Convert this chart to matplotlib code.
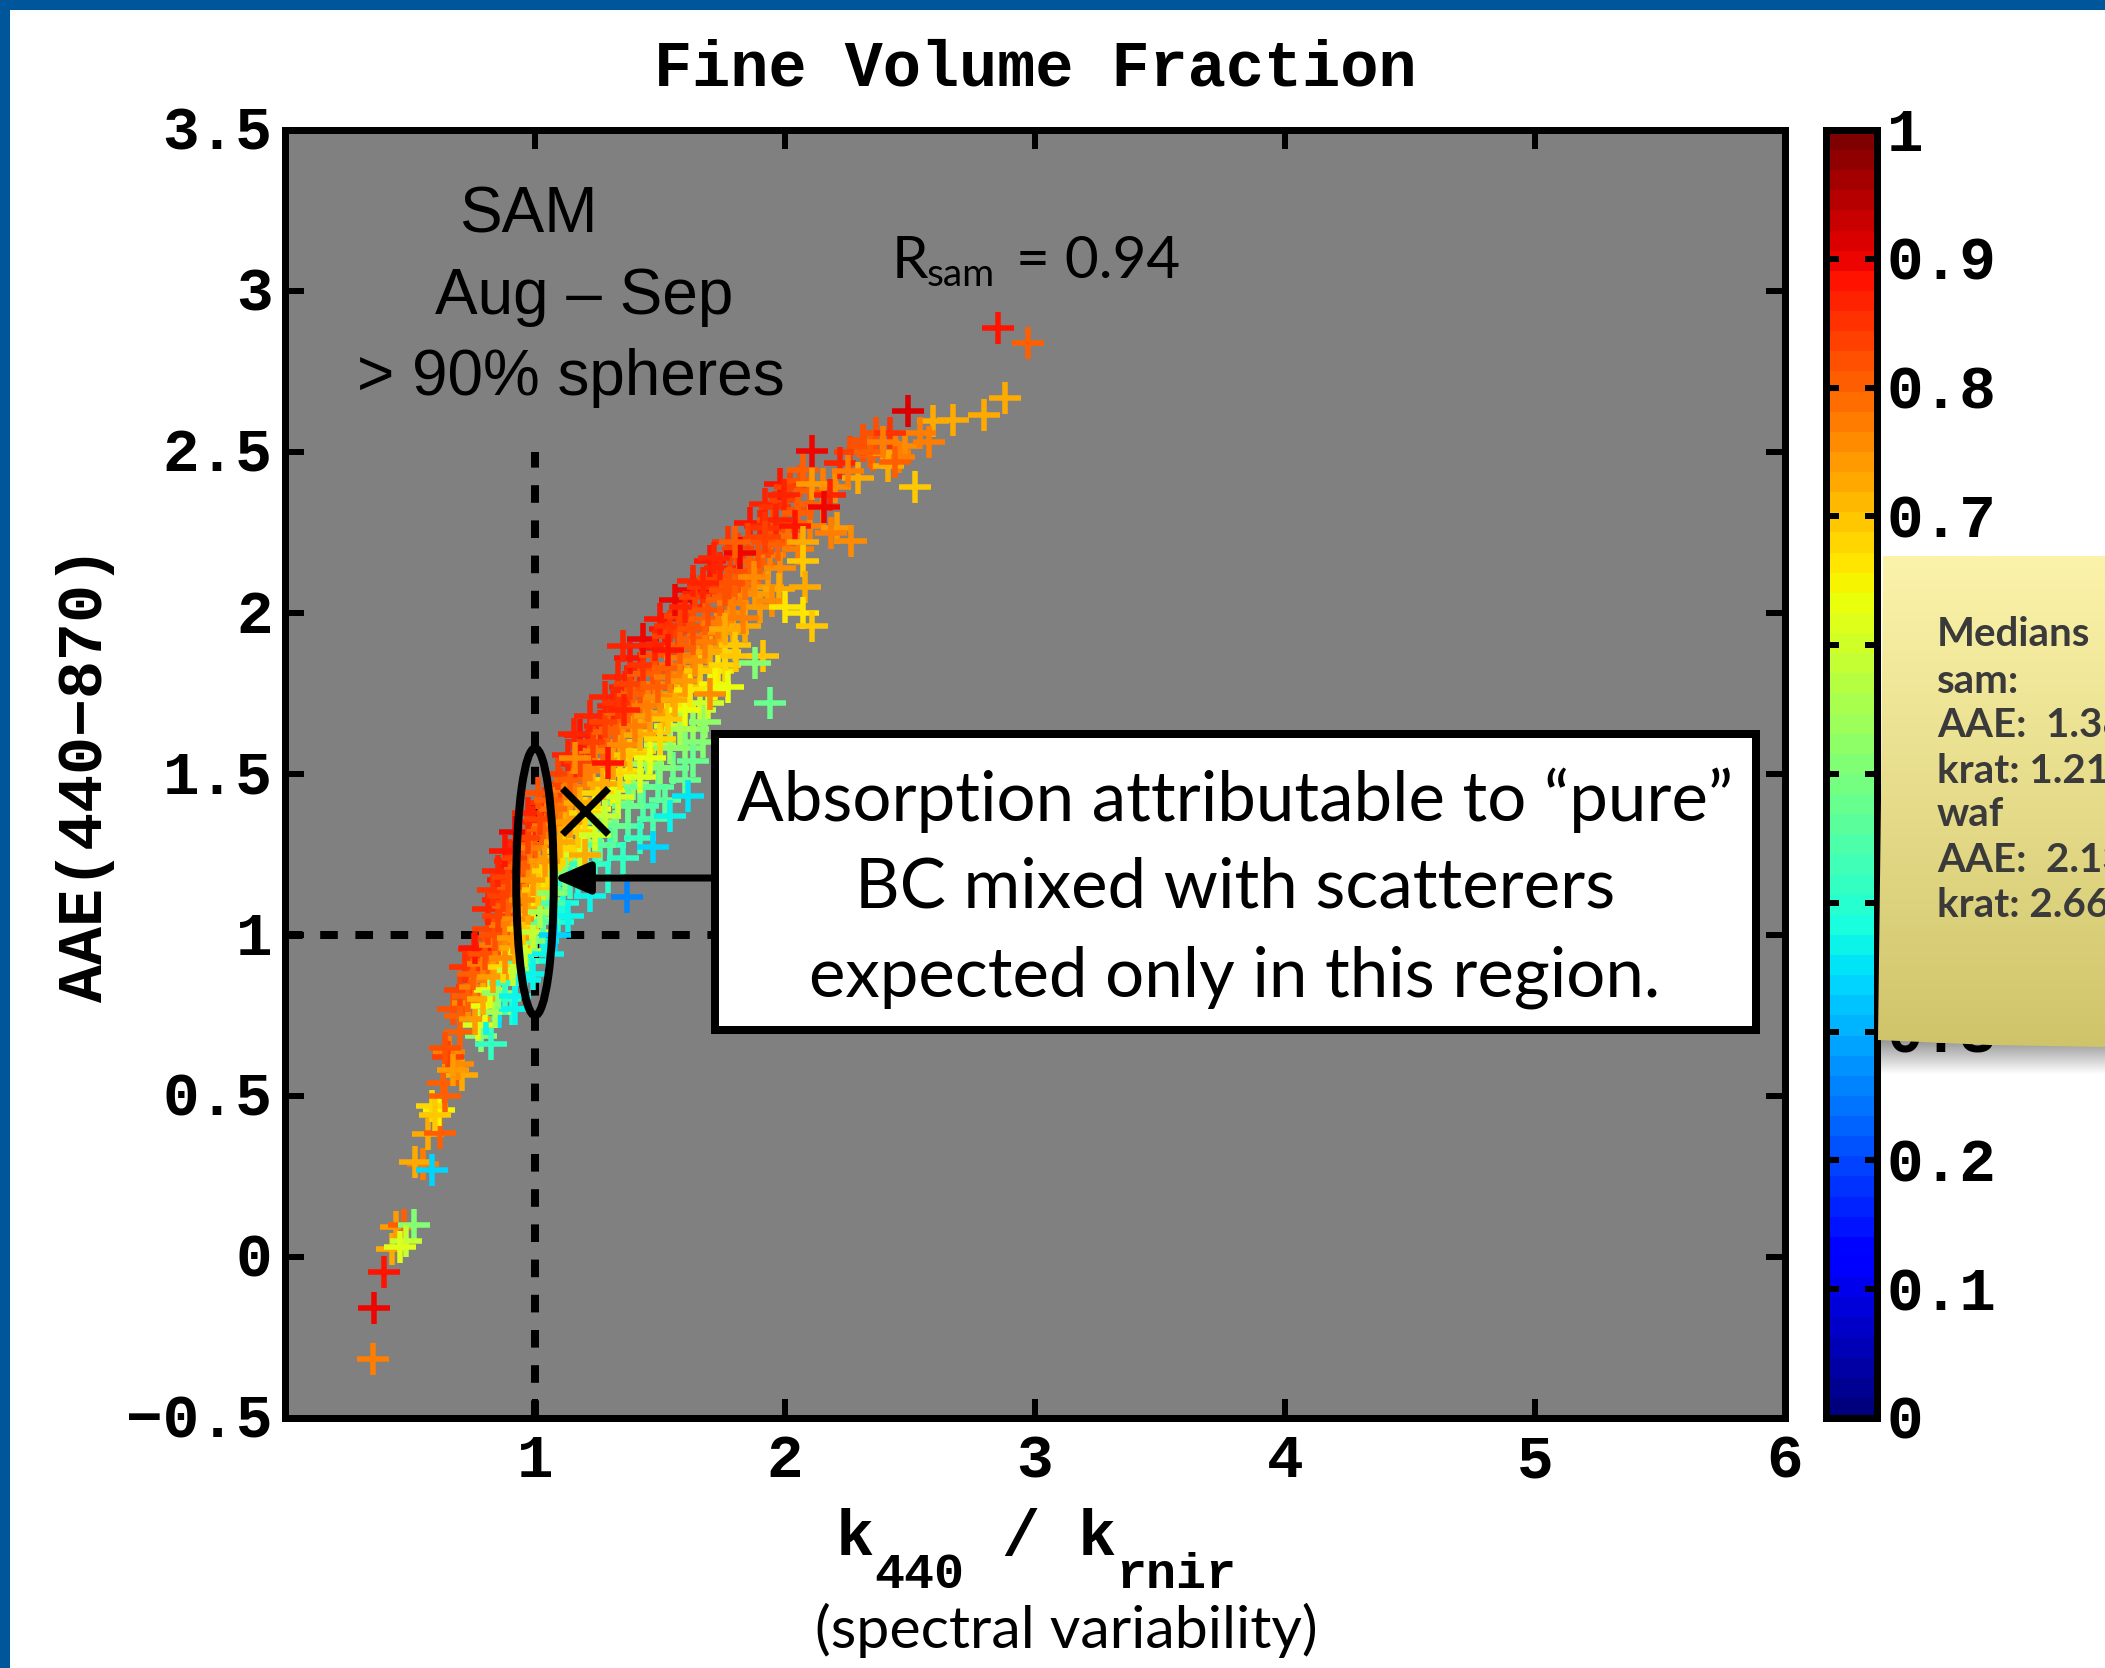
# fine volume fraction scatter, SAM Aug-Sep
import numpy as np
import matplotlib
matplotlib.use('Agg')
import matplotlib.pyplot as plt
from matplotlib.patches import Ellipse, Rectangle, Polygon
from matplotlib.transforms import ScaledTranslation

MONO = 'Liberation Mono'
HAND = 'Lato'
HELV = 'Liberation Sans'

# dense part of the cloud, one line per level
body_x = [
    .67, .70, .73, .76, .80, .84, .88, .92,
    .70, .73, .76, .79, .82, .85, .88, .92,
    .72, .75, .79, .83, .87, .91, .95, .99,
    .76, .80, .84, .88, .92, .96, 1.0, 1.05,
    .81, .84, .88, .91, .95, .99, 1.03, 1.08,
    .81, .85, .89, .93, .97, 1.02, 1.07, 1.13,
    .83, .87, .91, .96, 1.01, 1.07, 1.14, 1.22,
    .85, .89, .94, .99, 1.05, 1.12, 1.20, 1.29,
    .88, .93, .98, 1.04, 1.11, 1.18, 1.26, 1.35,
    .92, .97, 1.03, 1.10, 1.17, 1.24, 1.32, 1.42,
    .97, 1.02, 1.08, 1.14, 1.20, 1.28, 1.37, 1.47,
    1.01, 1.06, 1.12, 1.18, 1.25, 1.33, 1.42, 1.52,
    1.09, 1.14, 1.20, 1.27, 1.34, 1.42, 1.50, 1.60,
    1.13, 1.18, 1.24, 1.31, 1.38, 1.46, 1.54, 1.63,
    1.18, 1.23, 1.29, 1.35, 1.42, 1.50, 1.58, 1.67,
    1.22, 1.28, 1.34, 1.40, 1.46, 1.53, 1.60, 1.68,
    1.28, 1.33, 1.39, 1.45, 1.50, 1.56, 1.62, 1.69,
    1.33, 1.38, 1.43, 1.49, 1.54, 1.60, 1.66, 1.72,
    1.38, 1.43, 1.48, 1.53, 1.58, 1.64, 1.70, 1.76,
    1.43, 1.48, 1.53, 1.58, 1.63, 1.68, 1.74, 1.80,
    1.50, 1.54, 1.58, 1.63, 1.68, 1.73, 1.78, 1.84,
    1.56, 1.60, 1.64, 1.69, 1.74, 1.79, 1.84, 1.90,
    1.63, 1.67, 1.71, 1.76, 1.80, 1.84, 1.88, 1.93,
    1.70, 1.74, 1.78, 1.82, 1.86, 1.90, 1.94, 1.98,
    1.77, 1.81, 1.85, 1.89, 1.93, 1.97, 2.01, 2.05,
]
body_y = [
    .77, .75, .79, .74, .78, .76, .80, .77,
    .83, .81, .84, .80, .83, .82, .85, .81,
    .90, .88, .91, .87, .90, .89, .92, .88,
    .96, .94, .97, .93, .96, .95, .98, .94,
    1.02, 1.00, 1.03, .99, 1.02, 1.01, 1.04, 1.00,
    1.08, 1.06, 1.09, 1.05, 1.08, 1.07, 1.10, 1.06,
    1.14, 1.12, 1.15, 1.11, 1.14, 1.13, 1.16, 1.12,
    1.20, 1.18, 1.21, 1.17, 1.20, 1.19, 1.22, 1.18,
    1.26, 1.24, 1.27, 1.23, 1.26, 1.25, 1.28, 1.24,
    1.32, 1.30, 1.33, 1.29, 1.32, 1.31, 1.34, 1.30,
    1.38, 1.36, 1.39, 1.35, 1.38, 1.37, 1.40, 1.36,
    1.44, 1.42, 1.45, 1.41, 1.44, 1.43, 1.46, 1.42,
    1.50, 1.48, 1.51, 1.47, 1.50, 1.49, 1.52, 1.48,
    1.56, 1.54, 1.57, 1.53, 1.56, 1.55, 1.58, 1.54,
    1.62, 1.60, 1.63, 1.59, 1.62, 1.61, 1.64, 1.60,
    1.68, 1.66, 1.69, 1.65, 1.68, 1.67, 1.70, 1.66,
    1.74, 1.72, 1.75, 1.71, 1.74, 1.73, 1.76, 1.72,
    1.80, 1.78, 1.81, 1.77, 1.80, 1.79, 1.82, 1.78,
    1.86, 1.84, 1.87, 1.83, 1.86, 1.85, 1.88, 1.84,
    1.92, 1.90, 1.93, 1.89, 1.92, 1.91, 1.94, 1.90,
    1.98, 1.96, 1.99, 1.95, 1.98, 1.97, 2.00, 1.96,
    2.04, 2.02, 2.05, 2.01, 2.04, 2.03, 2.06, 2.02,
    2.10, 2.08, 2.11, 2.07, 2.10, 2.09, 2.12, 2.08,
    2.16, 2.14, 2.17, 2.13, 2.16, 2.15, 2.18, 2.14,
    2.22, 2.20, 2.23, 2.19, 2.22, 2.21, 2.24, 2.20,
]
body_c = [
    .82, .80, .76, .74, .64, .55, .42, .36,
    .84, .80, .78, .72, .62, .52, .42, .37,
    .85, .80, .77, .74, .68, .58, .45, .36,
    .88, .82, .78, .75, .72, .60, .50, .36,
    .84, .82, .78, .74, .70, .58, .46, .34,
    .86, .83, .80, .76, .72, .55, .44, .36,
    .85, .83, .80, .76, .70, .52, .42, .37,
    .87, .84, .80, .74, .68, .50, .42, .40,
    .88, .84, .78, .74, .68, .60, .46, .42,
    .90, .84, .80, .73, .69, .60, .47, .42,
    .86, .84, .79, .74, .68, .58, .48, .44,
    .82, .80, .77, .72, .68, .60, .48, .46,
    .84, .80, .77, .72, .68, .62, .50, .47,
    .87, .83, .78, .74, .70, .64, .52, .48,
    .88, .84, .80, .76, .72, .68, .55, .50,
    .86, .83, .80, .78, .74, .70, .64, .52,
    .87, .85, .81, .78, .76, .72, .66, .60,
    .86, .84, .81, .80, .77, .74, .70, .65,
    .88, .85, .82, .80, .78, .76, .72, .68,
    .90, .86, .83, .81, .80, .77, .74, .70,
    .88, .85, .84, .82, .80, .78, .76, .72,
    .90, .87, .84, .82, .80, .78, .76, .74,
    .87, .85, .83, .82, .80, .79, .77, .74,
    .88, .86, .84, .82, .80, .80, .78, .76,
    .85, .84, .83, .82, .82, .80, .79, .78,
]

# crosses between the levels above
fill_x = [
    .76, .80, .84, .88, .92, .96,
    .77, .81, .85, .89, .93, .98,
    .82, .86, .90, .94, .98, 1.03,
    .86, .90, .94, .98, 1.03, 1.09,
    .85, .89, .94, .99, 1.05, 1.11,
    .87, .91, .97, 1.03, 1.09, 1.17,
    .90, .95, 1.01, 1.08, 1.15, 1.24,
    .94, 1.00, 1.07, 1.14, 1.21, 1.30,
    .99, 1.05, 1.12, 1.19, 1.27, 1.37,
    1.04, 1.10, 1.17, 1.24, 1.33, 1.43,
    1.10, 1.16, 1.23, 1.31, 1.39, 1.49,
    1.16, 1.22, 1.29, 1.37, 1.45, 1.55,
    1.21, 1.27, 1.34, 1.42, 1.50, 1.60,
    1.26, 1.32, 1.39, 1.46, 1.54, 1.63,
    1.31, 1.37, 1.44, 1.51, 1.58, 1.66,
    1.36, 1.42, 1.48, 1.55, 1.62, 1.70,
    1.42, 1.47, 1.53, 1.59, 1.66, 1.73,
    1.48, 1.53, 1.58, 1.63, 1.69, 1.76,
    1.52, 1.57, 1.62, 1.67, 1.73, 1.79,
    1.63, 1.67, 1.72, 1.77, 1.82, 1.88,
    1.86, 1.90, 1.95, 2.00, 2.04, 2.10,
    1.92, 1.96, 2.00, 2.05, 2.10, 2.15,
    1.98, 2.02, 2.06, 2.10, 2.15, 2.20,
    2.26, 2.31, 2.35, 2.39, 2.44, 2.48,
]
fill_y = [
    .87, .86, .88, .85, .87, .86,
    .93, .92, .94, .91, .93, .92,
    .99, .98, 1.00, .97, .99, .98,
    1.05, 1.04, 1.06, 1.03, 1.05, 1.04,
    1.11, 1.10, 1.12, 1.09, 1.11, 1.10,
    1.17, 1.16, 1.18, 1.15, 1.17, 1.16,
    1.23, 1.22, 1.24, 1.21, 1.23, 1.22,
    1.29, 1.28, 1.30, 1.27, 1.29, 1.28,
    1.35, 1.34, 1.36, 1.33, 1.35, 1.34,
    1.41, 1.40, 1.42, 1.39, 1.41, 1.40,
    1.47, 1.46, 1.48, 1.45, 1.47, 1.46,
    1.53, 1.52, 1.54, 1.51, 1.53, 1.52,
    1.59, 1.58, 1.60, 1.57, 1.59, 1.58,
    1.65, 1.64, 1.66, 1.63, 1.65, 1.64,
    1.71, 1.70, 1.72, 1.69, 1.71, 1.70,
    1.77, 1.76, 1.78, 1.75, 1.77, 1.76,
    1.83, 1.82, 1.84, 1.81, 1.83, 1.82,
    1.89, 1.88, 1.90, 1.87, 1.89, 1.88,
    1.95, 1.94, 1.96, 1.93, 1.95, 1.94,
    2.07, 2.06, 2.08, 2.05, 2.07, 2.06,
    2.28, 2.27, 2.29, 2.26, 2.28, 2.27,
    2.34, 2.33, 2.35, 2.32, 2.34, 2.33,
    2.40, 2.39, 2.41, 2.38, 2.40, 2.39,
    2.50, 2.52, 2.49, 2.53, 2.50, 2.52,
]
fill_c = [
    .84, .78, .72, .62, .45, .36,
    .85, .80, .75, .66, .52, .38,
    .84, .78, .74, .64, .50, .37,
    .84, .78, .74, .66, .50, .38,
    .86, .80, .74, .66, .50, .38,
    .88, .82, .76, .66, .48, .38,
    .86, .80, .74, .68, .50, .41,
    .87, .80, .74, .68, .54, .43,
    .86, .78, .72, .64, .52, .44,
    .85, .78, .72, .64, .50, .45,
    .84, .78, .72, .65, .52, .46,
    .86, .78, .73, .66, .54, .47,
    .87, .80, .74, .68, .58, .50,
    .86, .80, .74, .70, .60, .52,
    .86, .80, .76, .72, .66, .58,
    .86, .82, .78, .74, .70, .64,
    .87, .82, .79, .76, .72, .66,
    .88, .83, .80, .78, .74, .68,
    .88, .84, .82, .79, .76, .72,
    .90, .86, .83, .80, .78, .74,
    .88, .86, .82, .82, .80, .78,
    .87, .85, .83, .82, .80, .78,
    .88, .84, .82, .80, .78, .76,
    .84, .82, .80, .80, .78, .76,
]

# lower tail of the cloud
tail_x = [.352, .354, .395, .427, .443, .476, .516, .483, .460, .552, .520, .587,
          .572, .619, .616, .589, .640, .656, .709, .630, .690, .783, .823, .600,
          .650, .723, .747, .700, .770, .756, .735, .640, .670, .805, .856, .909]
tail_y = [-.317, -.158, -.047, .025, .093, .10, .10, .05, .03, .29, .295, .27,
          .382, .385, .456, .47, .50, .636, .564, .54, .60, .687, .66, .44,
          .62, .784, .84, .70, .72, .955, .90, .65, .58, .74, .76, .77]
tail_c = [.77, .90, .88, .72, .74, .80, .50, .58, .62, .78, .72, .33,
          .72, .80, .65, .68, .80, .78, .72, .80, .76, .50, .42, .70,
          .84, .82, .85, .80, .62, .86, .82, .82, .74, .36, .35, .38]

# separate crosses on top of the cloud
upper_x = [2.85, 2.97, 2.88, 2.796, 2.67, 2.59, 2.49, 2.54, 2.575, 2.365, 2.31, 2.42,
           2.393, 2.456, 2.41, 2.52, 2.107, 2.22, 2.07, 2.29, 2.25, 2.107, 1.996, 2.18,
           2.156, 2.05, 1.965, 2.206, 2.263, 2.185, 1.92, 2.04, 1.92, 1.82, 1.80, 2.07,
           2.07, 1.715, 1.875, 1.777, 1.67, 1.975, 2.08, 1.947, 2.07, 2.107, 1.83, 1.76,
           1.35, 1.53, 1.805, 1.91, 1.88, 1.77, 1.94, 1.70, 1.156, 1.29, 1.16, 1.356,
           1.20, 1.369, 1.47, 1.61, 1.54, 2.34, 2.39, 2.44, 2.0]
upper_y = [2.886, 2.838, 2.669, 2.616, 2.60, 2.595, 2.628, 2.56, 2.532, 2.56, 2.538, 2.56,
           2.497, 2.486, 2.455, 2.39, 2.504, 2.466, 2.445, 2.42, 2.44, 2.40, 2.367, 2.367,
           2.33, 2.31, 2.29, 2.264, 2.223, 2.25, 2.265, 2.27, 2.235, 2.187, 2.22, 2.22,
           2.16, 2.17, 2.113, 2.094, 2.094, 2.073, 2.08, 2.036, 2.00, 1.96, 1.984, 1.95,
           1.896, 1.885, 1.868, 1.865, 1.846, 1.77, 1.72, 1.75, 1.625, 1.533, 1.55, 1.70,
           1.247, 1.117, 1.272, 1.433, 1.37, 2.50, 2.53, 2.47, 2.02]
upper_c = [.88, .80, .72, .72, .72, .72, .92, .78, .78, .82, .82, .85,
           .72, .78, .73, .70, .90, .87, .80, .72, .78, .74, .87, .87,
           .90, .80, .87, .74, .76, .78, .85, .88, .83, .90, .80, .72,
           .70, .87, .75, .82, .87, .73, .73, .76, .66, .70, .77, .72,
           .87, .88, .70, .70, .50, .63, .47, .75, .87, .88, .76, .87,
           .72, .25, .33, .35, .37, .80, .78, .80, .66]

xticks = [1, 2, 3, 4, 5, 6]
yticks = [-0.5, 0, 0.5, 1, 1.5, 2, 2.5, 3, 3.5]
ylabels = ['\u22120.5', '0', '0.5', '1', '1.5', '2', '2.5', '3', '3.5']
cticks = [0, .1, .2, .3, .4, .5, .6, .7, .8, .9, 1]
clabels = ['0', '0.1', '0.2', '0.3', '0.4', '0.5', '0.6', '0.7', '0.8', '0.9', '1']
callout_lines = ['Absorption attributable to \u201cpure\u201d', 'BC mixed with scatterers', 'expected only in this region.']
note_lines = ['Medians', 'sam:', 'AAE:  1.38', 'krat: 1.21', 'waf', 'AAE:  2.13', 'krat: 2.66']

W, H = 2105, 1668
lw_px = 1 / 100 * 72   # points per pixel at dpi 100


def box(l, t, r, b):
    return [l / W, 1 - b / H, (r - l) / W, (b - t) / H]


def style_labels(labels, size, fig, up_px=0):
    # y labels sit a little higher than matplotlib centres them, x labels lower
    shift = ScaledTranslation(0, up_px / 100, fig.dpi_scale_trans)
    for lab in labels:
        lab.set_family(MONO)
        lab.set_weight('bold')
        lab.set_size(size)
        lab.set_transform(lab.get_transform() + shift)


fig = plt.figure(figsize=(W / 100, H / 100), dpi=100, facecolor='white')
ax = fig.add_axes(box(285, 130, 1785, 1418), facecolor='#808080')
jet = plt.get_cmap('jet', 64)

ax.plot([1, 1], [-0.5, 2.5], color='k', lw=8 * lw_px, ls=(0, (2.2, 2.2)), zorder=1)
ax.plot([0, 1.9], [1, 1], color='k', lw=8 * lw_px, ls=(0, (2.2, 2.2)), zorder=1)

xs = np.array(tail_x + fill_x + body_x + upper_x)
ys = np.array(tail_y + fill_y + body_y + upper_y)
cs = np.array(tail_c + fill_c + body_c + upper_c)
ax.scatter(xs, ys, c=cs, cmap=jet, vmin=0, vmax=1, marker='+', s=(32 * lw_px) ** 2,
           linewidths=5.5 * lw_px, zorder=2)

ax.add_patch(Ellipse((1, 1.165), 0.15, 0.83, fill=False, ec='k', lw=8 * lw_px, zorder=3))
ax.plot([1.2], [1.385], marker='x', color='k', ms=46 * lw_px, mew=7 * lw_px, zorder=3)

ax.set_xlim(0, 6)
ax.set_ylim(-0.5, 3.5)
ax.set_xticks(xticks)
ax.set_yticks(yticks)
ax.set_yticklabels(ylabels)
ax.tick_params(direction='in', length=14, width=6 * lw_px, top=True, right=True, pad=9, colors='k')
style_labels(ax.get_yticklabels(), 44, fig, up_px=2.5)
style_labels(ax.get_xticklabels(), 44, fig, up_px=-2)
for s in ax.spines.values():
    s.set_linewidth(7 * lw_px)
ax.set_title('Fine Volume Fraction', family=MONO, weight='bold', fontsize=45.8, pad=32)
ax.set_ylabel('AAE(440\u2212870)', family=MONO, weight='bold', fontsize=45.5, va='center')
ax.yaxis.set_label_coords(-0.133, 0.5)

# colorbar
cax = fig.add_axes(box(1826, 130, 1877, 1418))
cax.imshow(np.linspace(0, 1, 64)[::-1].reshape(-1, 1), cmap=jet, aspect='auto', extent=[0, 1, 0, 1],
           vmin=0, vmax=1)
cax.set_xticks([])
cax.set_yticks(cticks)
cax.set_yticklabels(clabels)
cax.yaxis.tick_right()
cax.tick_params(axis='y', direction='in', length=9, width=6 * lw_px, left=True, right=True, pad=7)
style_labels(cax.get_yticklabels(), 44, fig, up_px=1.5)
for s in cax.spines.values():
    s.set_linewidth(7 * lw_px)

# overlay in pixel coordinates for the slide annotations
ov = fig.add_axes([0, 0, 1, 1], facecolor='none')
ov.set_xlim(0, W)
ov.set_ylim(H, 0)
ov.axis('off')

ov.add_patch(Rectangle((0, 0), W, 10, fc='#00569B', ec='none'))
ov.add_patch(Rectangle((0, 0), 10, H, fc='#00569B', ec='none'))

ov.text(528, 215, 'SAM', family=HELV, fontsize=46, ha='center', va='center')
ov.text(584, 297, 'Aug \u2013 Sep', family=HELV, fontsize=46, ha='center', va='center')
ov.text(571, 378, '> 90% spheres', family=HELV, fontsize=46, ha='center', va='center')
ov.text(892, 278, 'R', family=HAND, fontsize=42, ha='left', va='baseline')
ov.text(927, 286, 'sam', family=HAND, fontsize=28, ha='left', va='baseline')
ov.text(1016, 278, '= 0.94', family=HAND, fontsize=42, ha='left', va='baseline')

ov.add_patch(Rectangle((715, 734), 1041, 296, fc='white', ec='k', lw=8 * lw_px))
for line, yc in zip(callout_lines, [800, 888, 977]):
    ov.text(1235, yc, line, family=HAND, fontsize=49.7, ha='center', va='center', color='k')
ov.annotate('', xy=(553, 878), xytext=(714, 878),
            arrowprops=dict(arrowstyle='-|>,head_length=2.2,head_width=0.95', color='k', lw=7 * lw_px,
                            shrinkA=0, shrinkB=0))

# xlabel pieces
ov.text(855, 1555, 'k', family=MONO, weight='bold', fontsize=46, ha='center', va='baseline')
ov.text(919, 1588, '440', family=MONO, weight='bold', fontsize=36, ha='center', va='baseline')
ov.text(1020, 1555, '/', family=MONO, weight='bold', fontsize=46, ha='center', va='baseline')
ov.text(1097, 1555, 'k', family=MONO, weight='bold', fontsize=46, ha='center', va='baseline')
ov.text(1176, 1588, 'rnir', family=MONO, weight='bold', fontsize=36, ha='center', va='baseline')
ov.text(1066, 1648, '(spectral variability)', family=HAND, fontsize=42.6, ha='center', va='baseline')

# sticky note with shadow
shadow = np.zeros((30, 2, 4))
shadow[:, :, 3] = np.linspace(0.45, 0, 30).reshape(-1, 1)
ov.imshow(shadow, extent=[1880, W, 1075, 1037], aspect='auto', interpolation='bilinear', zorder=4)
grad = np.zeros((100, 2, 3))
top_c = np.array([251, 243, 170]) / 255
bot_c = np.array([208, 196, 106]) / 255
for i in range(100):
    grad[i, :, :] = top_c + (bot_c - top_c) * i / 99
note = ov.imshow(grad, extent=[1878, W, 1048, 556], aspect='auto', interpolation='bilinear', zorder=5)
edge = Polygon([(1883, 556), (W, 556), (W, 1047), (1990, 1045), (1878, 1040), (1881, 800)],
               closed=True, transform=ov.transData, fc='none', ec='none')
ov.add_patch(edge)
note.set_clip_path(edge)
for line, yc in zip(note_lines, [634, 681, 725, 771, 814, 860, 905]):
    ov.text(1937, yc, line, family=HAND, weight='bold', fontsize=29, ha='left', va='center',
            color='#3a3a3a', zorder=6)
ov.set_xlim(0, W)
ov.set_ylim(H, 0)

fig.savefig('out.png', dpi=100)
